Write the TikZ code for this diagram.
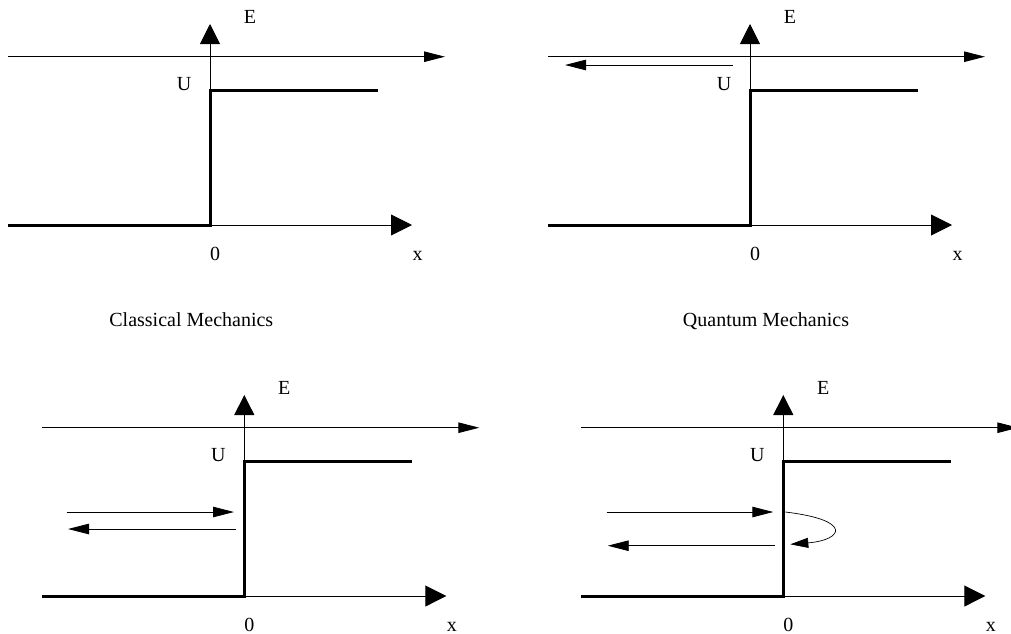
\documentclass[tikz,border=0pt]{standalone}
\usepackage{fontspec}
\setmainfont{Liberation Serif}
\usetikzlibrary{arrows.meta}
\tikzset{
  thinline/.style={line width=0.9pt, black},
  thickline/.style={line width=3pt, black, line join=miter, line cap=butt},
  flattip/.style={-{Triangle[length=21pt,width=10.5pt]}},
  lbl/.style={anchor=base, inner sep=0pt, font=\fontsize{20}{24}\selectfont},
}
\newcommand{\stepPanel}[3]{%
  \begin{scope}[shift={(#2,#3)}]
    \coordinate (#1o) at (0,0);
    \coordinate (#1l) at (-202,0);
    \coordinate (#1u) at (0,-135);
    \coordinate (#1r) at (168,-135);
    \coordinate (#1xt) at (202,0);
    \coordinate (#1yt) at (0,-201);
    \coordinate (#1el) at (-202,-168.3);
    \coordinate (#1er) at (235,-168.3);
    \draw[thinline, flattip] (#1el) -- (#1er);
    \draw[thinline, -{Triangle[length=20pt,width=20pt]}] (#1o) -- (#1yt);
    \draw[thinline, -{Triangle[length=21pt,width=21pt]}] (#1o) -- (#1xt);
    \draw[thickline] (#1l) -- (#1o) -- (#1u) -- (#1r);
    \node[lbl] (#1E) at (40,-201.7) {E};
    \node[lbl] (#1U) at (-26,-134.3) {U};
    \node[lbl] (#1zero) at (5,35) {0};
    \node[lbl] (#1x) at (207.5,35) {x};
  \end{scope}}
\begin{document}
\begin{tikzpicture}[x=1pt,y=-1pt]
\clip (0,0) rectangle (1011,633);
\fill[white] (0,0) rectangle (1011,633);
\stepPanel{a}{210}{225}
\stepPanel{b}{750}{225}
\stepPanel{c}{244.3}{596}
\stepPanel{d}{783.3}{596}
% panel b: reflected wave
\begin{scope}[shift={(750,225)}]
  \coordinate (bra) at (-17,-160);
  \coordinate (brb) at (-185,-160);
  \draw[thinline, flattip] (bra) -- (brb);
\end{scope}
% panel c: incident and reflected
\begin{scope}[shift={(244.3,596)}]
  \coordinate (cia) at (-177.6,-84);
  \coordinate (cib) at (-10.3,-84);
  \coordinate (cra) at (-8.6,-67);
  \coordinate (crb) at (-176.3,-67);
  \draw[thinline, flattip] (cia) -- (cib);
  \draw[thinline, flattip] (cra) -- (crb);
\end{scope}
% panel d: incident, penetration loop, reflected
\begin{scope}[shift={(783.3,596)}]
  \coordinate (dia) at (-176.6,-84);
  \coordinate (dib) at (-10,-84);
  \coordinate (dra) at (-8.3,-50.3);
  \coordinate (drb) at (-175.6,-50.3);
  \coordinate (dca) at (2,-84);
  \coordinate (dcb) at (7,-51.7);
  \draw[thinline, flattip] (dia) -- (dib);
  \draw[thinline, flattip] (dra) -- (drb);
  \draw[line width=0.7pt, -{Triangle[length=18pt,width=10pt]}] (dca) .. controls (70,-76) and (60,-56) .. (dcb);
\end{scope}
\node[lbl] (cm) at (191.3,326.7) {Classical Mechanics};
\node[lbl] (qm) at (766,326.7) {Quantum Mechanics};
\end{tikzpicture}
\end{document}
